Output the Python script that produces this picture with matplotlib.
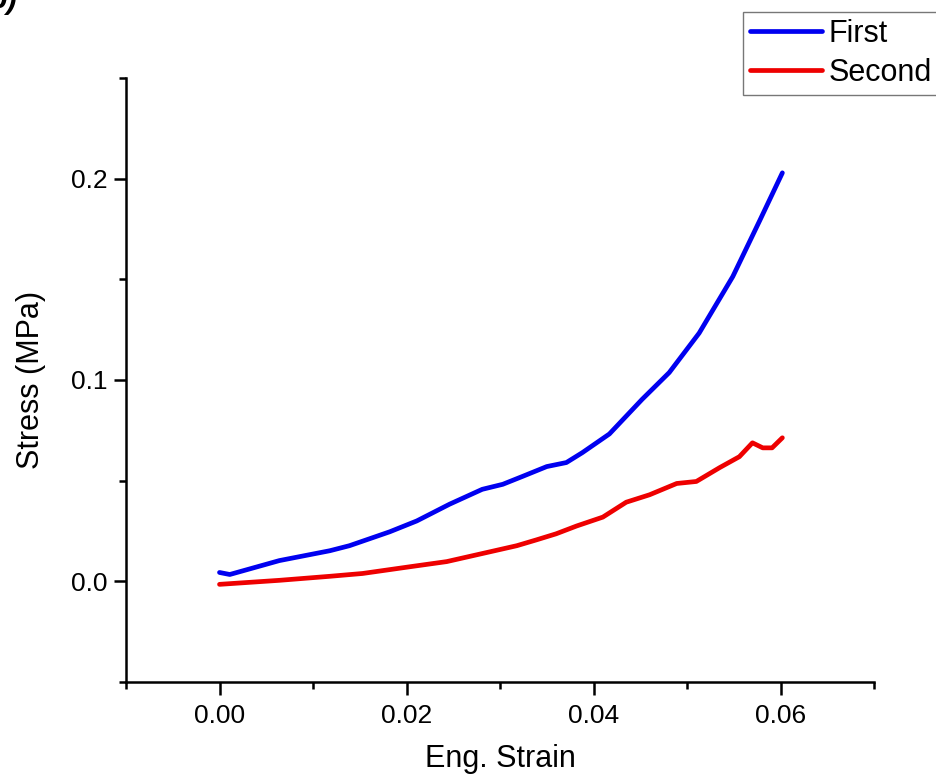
import matplotlib
matplotlib.use('Agg')
import matplotlib.pyplot as plt
from matplotlib.ticker import MultipleLocator

plt.rcParams['font.family'] = ['Liberation Sans', 'DejaVu Sans']

# first loading cycle
strain_first = [0.0000, 0.0011, 0.0064, 0.0118, 0.0139, 0.0182, 0.0211, 0.0246,
                0.0281, 0.0303, 0.0324, 0.0350, 0.0371, 0.0388, 0.0417, 0.0452,
                0.0481, 0.0513, 0.0549, 0.0578, 0.0602]
stress_first = [0.0044, 0.0034, 0.0103, 0.0152, 0.0177, 0.0246, 0.0300, 0.0383,
                0.0457, 0.0482, 0.0521, 0.0570, 0.0590, 0.0639, 0.0732, 0.0904,
                0.1037, 0.1233, 0.1514, 0.1794, 0.2029]

# second loading cycle
strain_second = [0.0000, 0.0064, 0.0118, 0.0153, 0.0206, 0.0243, 0.0281, 0.0318,
                 0.0339, 0.0360, 0.0382, 0.0410, 0.0435, 0.0460, 0.0489, 0.0510,
                 0.0535, 0.0556, 0.0570, 0.0581, 0.0591, 0.0602]
stress_second = [-0.0015, 0.0005, 0.0025, 0.0039, 0.0074, 0.0098, 0.0138, 0.0177,
                 0.0206, 0.0236, 0.0275, 0.0319, 0.0393, 0.0430, 0.0486, 0.0496,
                 0.0565, 0.0619, 0.0688, 0.0663, 0.0663, 0.0713]

fig = plt.figure(figsize=(9.36, 7.8), dpi=100)
ax = fig.add_axes([126/936, 1 - 682/780, 748/936, 604/780])

ax.plot(strain_first, stress_first, color='#0000F0', lw=3.4, label='First',
        solid_joinstyle='round', solid_capstyle='round')
ax.plot(strain_second, stress_second, color='#EE0000', lw=3.4, label='Second',
        solid_joinstyle='round', solid_capstyle='round')

ax.set_xlim(-0.01, 0.07)
ax.set_ylim(-0.05, 0.25)
ax.xaxis.set_minor_locator(MultipleLocator(0.01))
ax.yaxis.set_minor_locator(MultipleLocator(0.05))
ax.set_xticks([0.0, 0.02, 0.04, 0.06])
ax.set_xticklabels(['0.00', '0.02', '0.04', '0.06'])
ax.set_yticks([0.0, 0.1, 0.2])
ax.set_yticklabels(['0.0', '0.1', '0.2'])

for side in ('top', 'right'):
    ax.spines[side].set_visible(False)
for side in ('left', 'bottom'):
    ax.spines[side].set_linewidth(1.8)

ax.tick_params(which='major', direction='out', length=9, width=1.8, labelsize=19)
ax.tick_params(which='minor', direction='out', length=5, width=1.8)
ax.tick_params(axis='x', which='major', pad=7)
ax.tick_params(axis='y', which='major', pad=4)

ax.set_xlabel('Eng. Strain', fontsize=22, labelpad=11)
ax.set_ylabel('Stress (MPa)', fontsize=22, labelpad=18)

leg = fig.legend(loc='upper left', bbox_to_anchor=(743/936, 1 - 12/780),
                 fontsize=22, frameon=True, fancybox=False, borderaxespad=0,
                 handlelength=2.35, handletextpad=0.22, labelspacing=0.3,
                 borderpad=0.22)
leg.get_frame().set_edgecolor('#555555')
leg.get_frame().set_linewidth(1.0)
for line in leg.get_lines():
    line.set_linewidth(3.4)

# panel tag, mostly outside the canvas
fig.text(-0.012, 1.0, 'b)', fontsize=22, weight='bold', style='italic',
         ha='left', va='center')

fig.savefig('out.png', dpi=100)
